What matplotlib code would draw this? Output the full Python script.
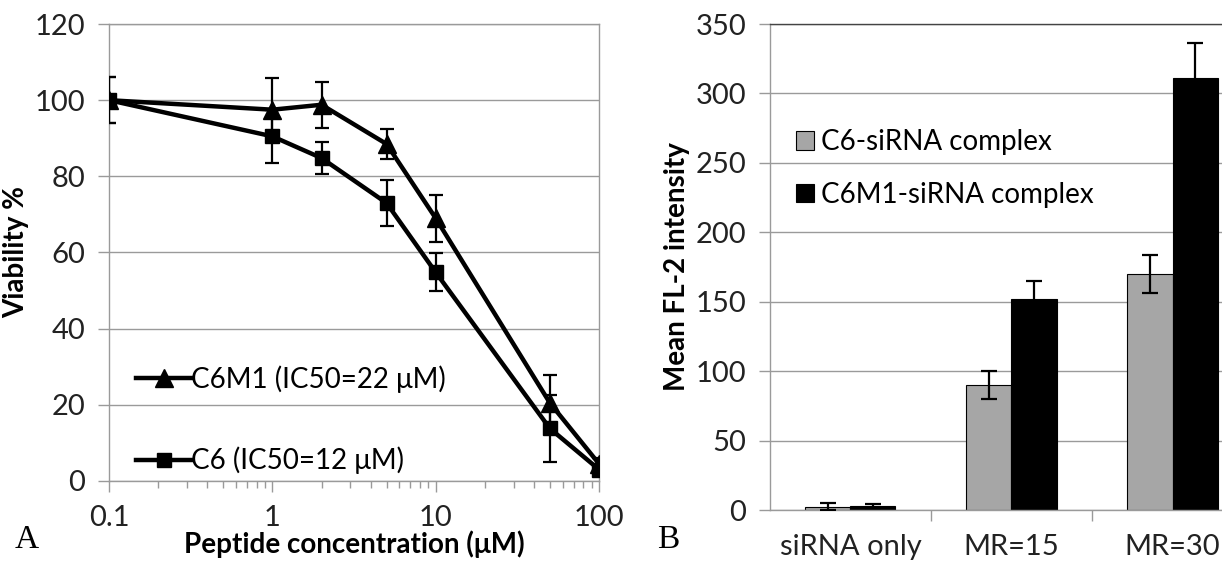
import numpy as np
import matplotlib
matplotlib.use("Agg")
import matplotlib.pyplot as plt

plt.rcParams['font.family'] = ['Lato', 'DejaVu Sans']

# Panel A: viability vs peptide concentration
conc = [0.1, 1, 2, 5, 10, 50, 100]
c6m1_via = [100, 97.5, 98.8, 88.5, 69, 20.5, 4.5]
c6m1_err = [6, 8.3, 6, 4, 6.2, 7.3, 1.5]
c6_via = [100, 90.5, 84.8, 73, 54.8, 13.8, 3]
c6_err = [6, 7, 4.2, 6, 5, 8.8, 1]

# Panel B: mean FL-2 intensity
groups = ['siRNA only', 'MR=15', 'MR=30']
c6_fl = [2.5, 90, 170]
c6_fl_err = [2.5, 10, 14]
c6m1_fl = [3, 152, 311]
c6m1_fl_err = [1.5, 13, 25]

grid_col = '#9a9a9a'
gray_bar = '#a6a6a6'
tick_fs = 21
label_fs = 20

fig = plt.figure(figsize=(12.22, 5.65), dpi=100)

# ---------- panel A ----------
ax1 = fig.add_axes([0.0892, 0.1487, 0.401, 0.8088])
ax1.errorbar(conc, c6m1_via, yerr=c6m1_err, color='black', lw=3.2, marker='^', ms=13,
             capsize=5, elinewidth=1.6, capthick=1.6, label='C6M1 (IC50=22 μM)', zorder=3)
ax1.errorbar(conc, c6_via, yerr=c6_err, color='black', lw=3.2, marker='s', ms=10,
             capsize=5, elinewidth=1.6, capthick=1.6, label='C6 (IC50=12 μM)', zorder=3)
ax1.set_xscale('log')
ax1.set_xlim(0.1, 100)
ax1.set_ylim(0, 120)
ax1.set_yticks(np.arange(0, 121, 20))
ax1.set_xticks([0.1, 1, 10, 100])
ax1.set_xticklabels(['0.1', '1', '10', '100'])
ax1.yaxis.grid(True, color=grid_col, lw=1)
ax1.set_axisbelow(True)
for s in ax1.spines.values():
    s.set_color(grid_col)
    s.set_linewidth(1)
ax1.tick_params(axis='both', which='major', labelsize=tick_fs, color=grid_col, length=8,
                width=1, direction='out', pad=9, labelcolor='#222222')
ax1.tick_params(axis='x', which='minor', color=grid_col, length=5, width=1)
ax1.set_ylabel('Viability %', fontsize=label_fs, fontweight='bold', labelpad=4)
ax1.set_xlabel('Peptide concentration (μM)', fontsize=label_fs, fontweight='bold', labelpad=0)
handles, labels = ax1.get_legend_handles_labels()
handles = [h[0] for h in handles]
ax1.legend(handles, labels, loc='lower left', bbox_to_anchor=(0.015, -0.028), frameon=False,
           fontsize=20, handlelength=2.0, handletextpad=0.0, labelspacing=1.95,
           borderpad=0.2)
fig.text(0.012, 0.03, 'A', fontsize=24, family='Liberation Serif')

# ---------- panel B ----------
ax2 = fig.add_axes([0.630, 0.0973, 0.370, 0.8602])
x = np.arange(len(groups))
w = 0.28
ax2.bar(x - w / 2, c6_fl, w, color=gray_bar, edgecolor='black', lw=0.8,
        label='C6-siRNA complex', zorder=2)
ax2.bar(x + w / 2, c6m1_fl, w, color='black', edgecolor='black', lw=0.8,
        label='C6M1-siRNA complex', zorder=2)
ax2.errorbar(x - w / 2, c6_fl, yerr=c6_fl_err, fmt='none', ecolor='black',
             elinewidth=1.6, capsize=6, capthick=1.6, zorder=3)
ax2.errorbar(x + w / 2, c6m1_fl, yerr=c6m1_fl_err, fmt='none', ecolor='black',
             elinewidth=1.6, capsize=6, capthick=1.6, zorder=3)
ax2.set_xlim(-0.5, 2.307)
ax2.set_ylim(0, 350)
ax2.set_yticks(np.arange(0, 351, 50))
ax2.set_xticks([0.5, 1.5])
ax2.set_xticklabels([])
ax2.set_xticks(x, minor=True)
ax2.set_xticklabels(groups, minor=True)
ax2.yaxis.grid(True, color=grid_col, lw=1)
ax2.set_axisbelow(True)
for s in ax2.spines.values():
    s.set_color(grid_col)
    s.set_linewidth(1)
ax2.spines['right'].set_visible(False)
ax2.spines['top'].set_color('#444444')
ax2.tick_params(axis='both', which='major', labelsize=tick_fs, color=grid_col, length=8,
                width=1, direction='out', pad=9, labelcolor='#222222')
ax2.tick_params(axis='x', which='minor', length=0, labelsize=tick_fs, pad=17,
                labelcolor='#222222')
ax2.set_ylabel('Mean FL-2 intensity', fontsize=label_fs, fontweight='bold', labelpad=4)
ax2.legend(loc='upper left', bbox_to_anchor=(0.003, 0.835), frameon=False, fontsize=20,
           handlelength=0.65, handleheight=0.65, handletextpad=0.25, labelspacing=0.95)
fig.text(0.538, 0.03, 'B', fontsize=24, family='Liberation Serif')

fig.savefig('out.png', dpi=100)
